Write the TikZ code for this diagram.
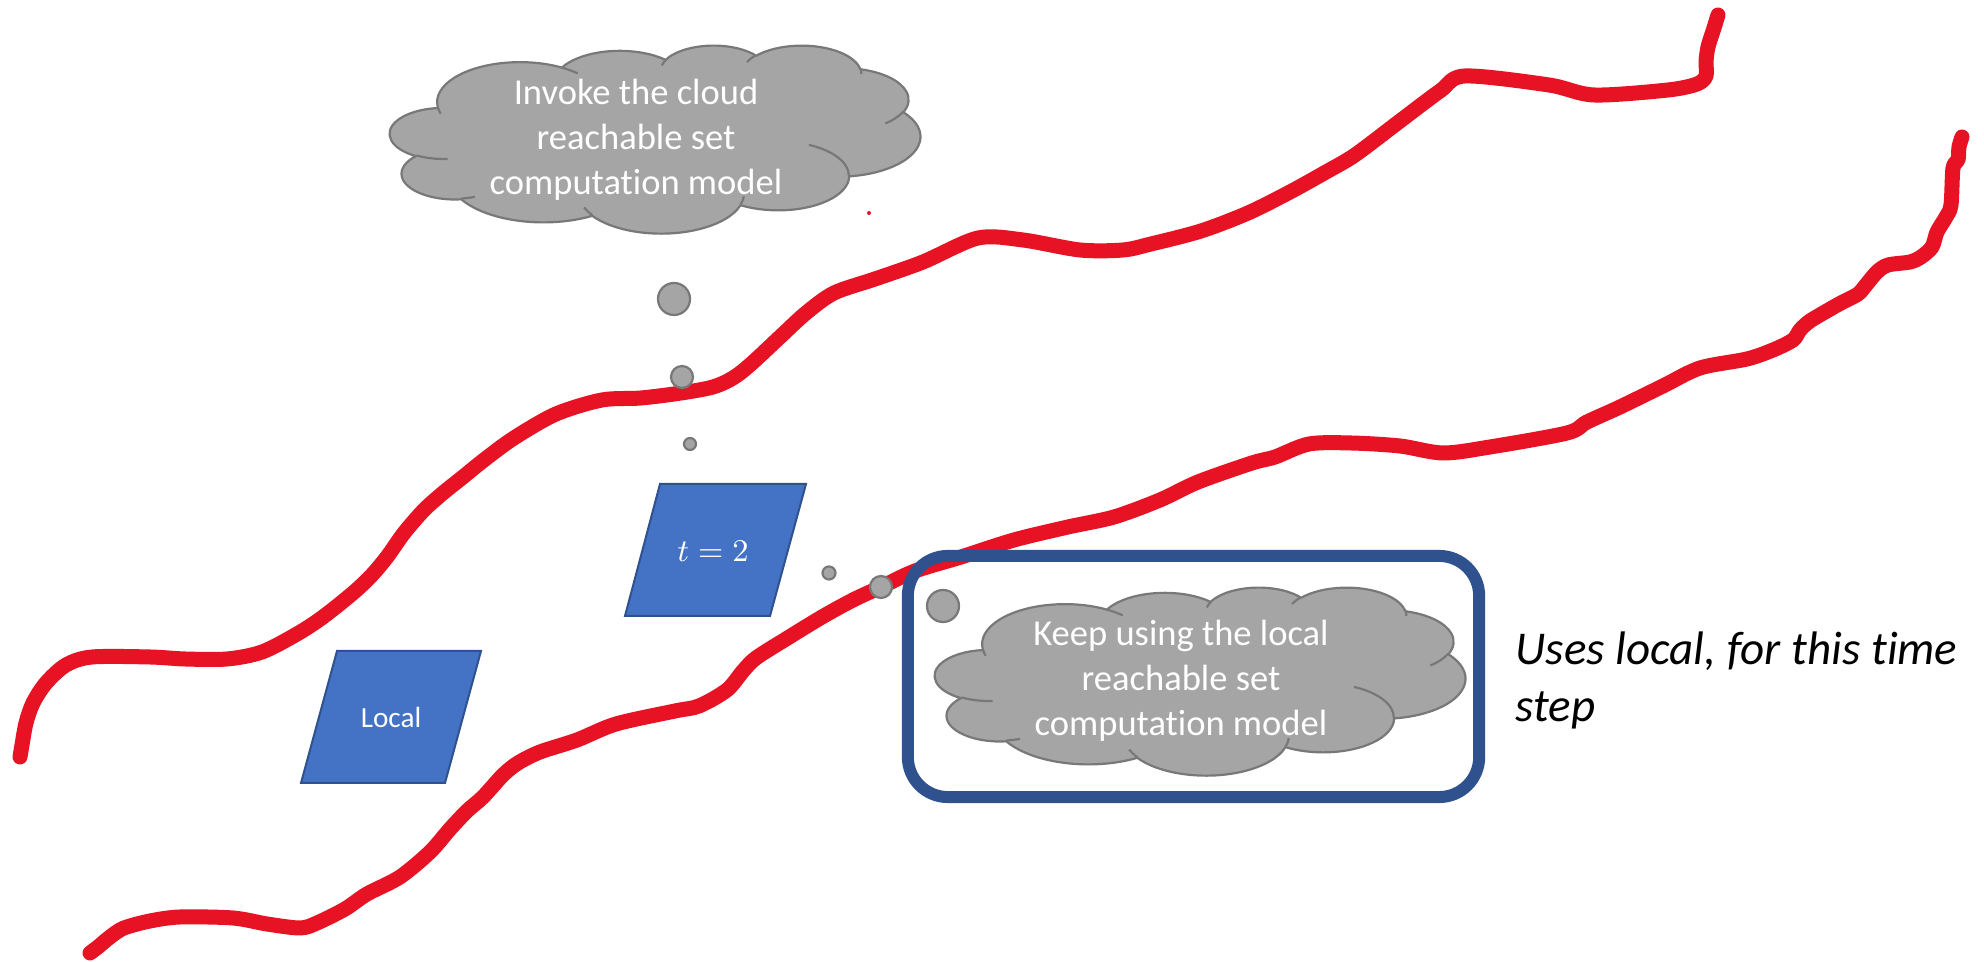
\documentclass[tikz,border=0pt]{standalone}
\usepackage{fontspec}
\setmainfont{Carlito}[Ligatures=NoCommon]
\definecolor{inkred}{HTML}{E71224}
\definecolor{pblue}{HTML}{4472C4}
\definecolor{pblueline}{HTML}{2F528F}
\definecolor{cgray}{HTML}{A5A5A5}
\definecolor{cgrayline}{HTML}{787878}
% elliptical arc in the style of a DrawingML arcTo: radii, start angle, sweep (degrees)
\newcommand\setarc[5]{%
  \pgfmathsetmacro\cldta{atan2((#2)*sin(#4),(#3)*cos(#4))}%
  \pgfmathsetmacro\cldtb{atan2((#2)*sin((#4)+(#5)),(#3)*cos((#4)+(#5)))}%
  \pgfmathsetmacro\cldtd{mod(\cldtb-\cldta+720,360)}%
  \edef\clddo{\noexpand\tikzset{#1/.style={start angle=\cldta, delta angle=\cldtd, x radius=#2, y radius=#3}}}%
  \clddo}
\setarc{clo1}{67.53}{91.90}{-190.4875}{123.7805}
\setarc{clo2}{53.33}{72.67}{-144.1024}{89.9452}
\setarc{clo3}{43.65}{59.45}{-145.8079}{99.7230}
\setarc{clo4}{48.57}{65.95}{-130.9861}{117.2417}
\setarc{clo5}{53.33}{72.73}{-78.7089}{109.0269}
\setarc{clo6}{67.75}{92.20}{-46.2673}{130.2690}
\setarc{clo7}{57.85}{78.67}{0.6250}{114.0333}
\setarc{clo8}{67.52}{92.15}{22.4516}{115.1726}
\setarc{clo9}{77.20}{105.43}{66.2426}{75.7110}
\setarc{clo10}{43.60}{59.18}{-274.9421}{146.7356}
\setarc{clo11}{43.45}{59.45}{-246.8285}{152.5189}
\setarc{cli1}{43.45}{59.45}{86.7420}{26.4295}
\setarc{cli2}{43.60}{59.18}{73.6105}{11.4475}
\setarc{cli3}{67.52}{92.15}{137.6242}{14.0811}
\setarc{cli4}{67.52}{92.15}{6.4533}{15.9984}
\setarc{cli5}{57.85}{78.67}{-70.2924}{70.9174}
\setarc{cli6}{53.33}{72.73}{30.3180}{27.7515}
\setarc{cli7}{48.57}{65.95}{-13.7443}{14.8589}
\setarc{cli8}{48.57}{65.95}{-149.1815}{18.1954}
\setarc{cli9}{43.65}{59.45}{-163.4943}{17.6864}
\setarc{cli10}{67.53}{91.90}{-66.7070}{12.3194}
\setarc{cli11}{67.53}{91.90}{157.6544}{11.8582}
\tikzset{
  ink/.style={draw=inkred, line width=0.15cm, line cap=round, line join=round},
  cloudbody/.style={fill=cgray, draw=cgrayline, line width=0.022cm, line join=round},
  cloudline/.style={draw=cgrayline, line width=0.022cm},
  cloudtext/.style={text=white, align=center, inner sep=0pt, font=\fontsize{10.39pt}{12.8pt}\selectfont},
  bubble/.style={circle, fill=cgray, draw=cgrayline, line width=0.022cm, inner sep=0pt},
  para/.style={fill=pblue, draw=pblueline, line width=0.02cm, line join=miter},
  paratext/.style={text=white, inner sep=0pt, font=\fontsize{8.3pt}{10pt}\selectfont},
  mathtext/.style={text=white, inner sep=0pt, font=\fontsize{8.9pt}{10.7pt}\selectfont},
  bluebox/.style={draw=pblueline, line width=0.12cm, rounded corners=0.4cm, inner sep=0pt},
  note/.style={align=left, inner sep=0pt, font=\fontsize{13.37pt}{16.22pt}\selectfont\itshape}
}
\newcommand\cloudat[1]{%
\begin{scope}[shift={#1}, x=1cm, y=1cm, xscale=0.012269, yscale=-0.004352]
\filldraw[cloudbody] (39.00,143.70) arc[clo1] arc[clo2] arc[clo3] arc[clo4] arc[clo5] arc[clo6] arc[clo7] arc[clo8] arc[clo9] arc[clo10] arc[clo11] -- cycle;
\draw[cloudline] (46.93,261.77) arc[cli1] (69.28,348.99) arc[cli2] (164.78,390.90) arc[cli3] (288.27,347.51) arc[cli4] (341.29,229.54) arc[cli5] (417.98,153.54) arc[cli6] (383.24,54.26) arc[cli7] (290.78,39.52) arc[cli8] (221.41,47.20) arc[cli9] (140.00,51.92) arc[cli10] (41.27,157.89) arc[cli11];
\end{scope}}
\begin{document}
\begin{tikzpicture}[x=0.01cm, y=-0.01cm]
\useasboundingbox (0,0) rectangle (1984,962);
\fill[white] (0,0) rectangle (1984,962);

% red ink strokes
\draw[ink] plot[smooth, tension=0.5] coordinates {
 (20,757) (22,745) (26,723) (33,703) (46,683) (66,665) (92,657) (150,657) (185,659) (227,659)
 (262,652) (297,634) (323,617) (353,593) (371,576) (387,557) (404,533) (424,510) (443,493)
 (463,477) (484,460) (514,438) (556,414) (602,400) (641,398) (681,393) (713,387) (733,378)
 (751,364) (781,336) (806,313) (834,293) (875,279) (923,262) (978,238) (1023,240) (1080,250)
 (1123,250) (1151,244) (1201,231) (1248,213) (1290,192) (1326,172) (1355,155) (1400,121)
 (1440,91) (1465,76) (1549,85) (1594,95) (1668,90) (1697,84) (1706,76) (1706,62) (1708,47)
 (1714,28) (1718,15)};
\draw[ink] plot[smooth, tension=0.5] coordinates {
 (90,953) (98,947) (110,937) (124,928) (150,921) (180,917) (233,918) (267,924) (300,928)
 (317,923) (345,909) (367,894) (400,877) (430,852) (450,829) (467,811) (483,797) (503,775)
 (518,763) (540,752) (577,740) (616,724) (675,711) (699,706) (727,690) (743,671) (756,658)
 (786,639) (822,617) (853,600) (881,587) (915,571) (961,557) (1014,540) (1068,527) (1114,517)
 (1160,500) (1198,482) (1252,463) (1275,457) (1309,444) (1351,443) (1400,446) (1443,453)
 (1490,447) (1567,433) (1587,422) (1620,407) (1663,386) (1700,368) (1747,359) (1773,350)
 (1793,340) (1800,330) (1810,321) (1832,308) (1841,303) (1858,294) (1866,285) (1877,272)
 (1888,265) (1910,262) (1921,257) (1932,247) (1937,232) (1946,217) (1951,205) (1953,168)
 (1958,160) (1959,147) (1962,137)};
\fill[inkred] (869,213) circle (2);

% upper thought cloud
\cloudat{(390,45)}
\node[cloudtext] (cloudA) at (636,140) {Invoke the cloud\\reachable set\\computation model};
\node[bubble, minimum size=0.32cm] (bA1) at (674,299) {};
\node[bubble, minimum size=0.22cm] (bA2) at (682,377) {};
\node[bubble, minimum size=0.12cm] (bA3) at (690,444) {};

% parallelograms
\filldraw[para] (660,484) -- (806,484) -- (770,616) -- (625,616) -- cycle;
\node[mathtext] (tstep) at (713,551) {$t=2$};
\filldraw[para] (337,651) -- (481,651) -- (445,783) -- (301,783) -- cycle;
\node[paratext] (local) at (391,717) {Local};

% lower thought cloud in rounded box
\node[bluebox, minimum width=5.71cm, minimum height=2.41cm] (box) at (1193.5,676.5) {};
\node[bubble, minimum size=0.13cm] (bB1) at (829,573) {};
\node[bubble, minimum size=0.22cm] (bB2) at (881,587) {};
\node[bubble, minimum size=0.32cm] (bB3) at (943,606) {};
\cloudat{(935,587)}
\node[cloudtext] (cloudB) at (1181,681) {Keep using the local\\reachable set\\computation model};

\node[note, anchor=west] (note) at (1515,680) {Uses local, for this time\\step};
\end{tikzpicture}
\end{document}
